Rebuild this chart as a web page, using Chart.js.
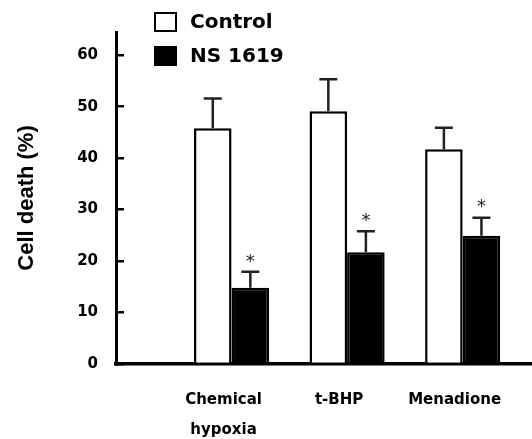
<!DOCTYPE html>
<html>
<head>
<meta charset="utf-8">
<script src="https://cdn.jsdelivr.net/npm/chart.js@4.4.0/dist/chart.umd.min.js"></script>
<style>
    html, body { margin: 0; padding: 0; background: #fff; }
    #wrap { width: 532px; height: 439px; position: relative; }
</style>
</head>
<body>
<div id="wrap"><canvas id="chart"></canvas></div>
<script>
// values (mean and SE, % cell death)
const categories = [['Chemical', 'hypoxia'], ['t-BHP'], ['Menadione']];
const groupPositions = [1, 2, 3];
const controlValues = [45.8, 49.1, 41.7];
const controlErrors = [5.8, 6.2, 4.2];
const nsValues = [14.8, 21.7, 24.9];
const nsErrors = [3.1, 4.1, 3.5];
const nsSignificant = [true, true, true];
const yTicks = [0, 10, 20, 30, 40, 50, 60];

const labelFont = 'DejaVu Sans';

const toPoints = (values) => values.map((v, i) => ({ x: groupPositions[i], y: v }));

// error bars with caps, plus the significance stars
const errorBarPlugin = {
    id: 'errorBars',
    afterDatasetsDraw(chart) {
        const ctx = chart.ctx;
        const yScale = chart.scales.y;
        chart.data.datasets.forEach((ds, di) => {
            const meta = chart.getDatasetMeta(di);
            meta.data.forEach((bar, i) => {
                const top = yScale.getPixelForValue(ds.data[i].y + ds.errors[i]);
                ctx.save();
                ctx.strokeStyle = '#222';
                ctx.lineWidth = 2.5;
                ctx.beginPath();
                ctx.moveTo(bar.x, bar.y);
                ctx.lineTo(bar.x, top);
                ctx.moveTo(bar.x - 9, top);
                ctx.lineTo(bar.x + 9, top);
                ctx.stroke();
                if (ds.stars && ds.stars[i]) {
                    ctx.fillStyle = '#222';
                    ctx.font = '18px ' + labelFont;
                    ctx.textAlign = 'center';
                    ctx.textBaseline = 'middle';
                    ctx.fillText('*', bar.x, top - 10);
                }
                ctx.restore();
            });
        });
    }
};

// stacked legend in the top left of the plot
const legendPlugin = {
    id: 'stackedLegend',
    afterDraw(chart) {
        const ctx = chart.ctx;
        const rows = [22, 56];
        chart.data.datasets.forEach((ds, di) => {
            const cy = rows[di];
            ctx.save();
            ctx.fillStyle = ds.backgroundColor;
            ctx.strokeStyle = '#000';
            ctx.lineWidth = 2;
            ctx.fillRect(155, cy - 9, 21, 18);
            ctx.strokeRect(155, cy - 9, 21, 18);
            ctx.fillStyle = '#000';
            ctx.font = 'bold 20px ' + labelFont;
            ctx.textAlign = 'left';
            ctx.textBaseline = 'middle';
            ctx.fillText(ds.label, 190, cy + 1);
            ctx.restore();
        });
    }
};

new Chart(document.getElementById('chart'), {
    type: 'bar',
    data: {
        datasets: [
            {
                label: 'Control',
                data: toPoints(controlValues),
                errors: controlErrors,
                backgroundColor: '#ffffff',
                borderColor: '#000000',
                borderWidth: 2.5,
                borderSkipped: 'start'
            },
            {
                label: 'NS 1619',
                data: toPoints(nsValues),
                errors: nsErrors,
                stars: nsSignificant,
                backgroundColor: '#000000',
                borderColor: '#000000',
                borderWidth: 2.5,
                borderSkipped: 'start'
            }
        ]
    },
    options: {
        responsive: true,
        maintainAspectRatio: false,
        animation: false,
        categoryPercentage: 0.65,
        barPercentage: 1,
        layout: { padding: { top: 32, left: 0, right: 0, bottom: 0 } },
        plugins: {
            legend: { display: false },
            tooltip: { enabled: false }
        },
        scales: {
            x: {
                type: 'linear',
                offset: false,
                min: 0,
                max: 3.6,
                afterBuildTicks: (axis) => {
                    axis.ticks = groupPositions.map(v => ({ value: v }));
                },
                afterFit: (axis) => {
                    axis.height = 75;
                    axis.paddingLeft = 0;
                    axis.paddingRight = 0;
                },
                grid: { display: false, drawTicks: false },
                border: { display: true, color: '#000', width: 3.5 },
                ticks: {
                    padding: 21,
                    labelOffset: -8,
                    color: '#000',
                    font: { family: labelFont, size: 15, weight: 'bold', lineHeight: 2 },
                    callback: (value) => categories[groupPositions.indexOf(value)]
                }
            },
            y: {
                min: 0,
                max: 64.5,
                afterBuildTicks: (axis) => {
                    axis.ticks = yTicks.map(v => ({ value: v }));
                },
                afterFit: (axis) => {
                    axis.width = 116;
                    axis.paddingTop = 0;
                    axis.paddingBottom = 0;
                },
                grid: {
                    drawOnChartArea: false,
                    drawTicks: true,
                    tickLength: -8,
                    color: '#000',
                    lineWidth: 2.5
                },
                border: { display: true, color: '#000', width: 3 },
                ticks: {
                    padding: 26,
                    color: '#000',
                    font: { family: labelFont, size: 15, weight: 'bold' }
                },
                title: {
                    display: true,
                    text: 'Cell death (%)',
                    color: '#000',
                    padding: { top: 14, bottom: 0 },
                    font: { family: 'Liberation Sans', size: 22, weight: 'bold', lineHeight: 1.2 }
                }
            }
        }
    },
    plugins: [errorBarPlugin, legendPlugin]
});
</script>
</body>
</html>
